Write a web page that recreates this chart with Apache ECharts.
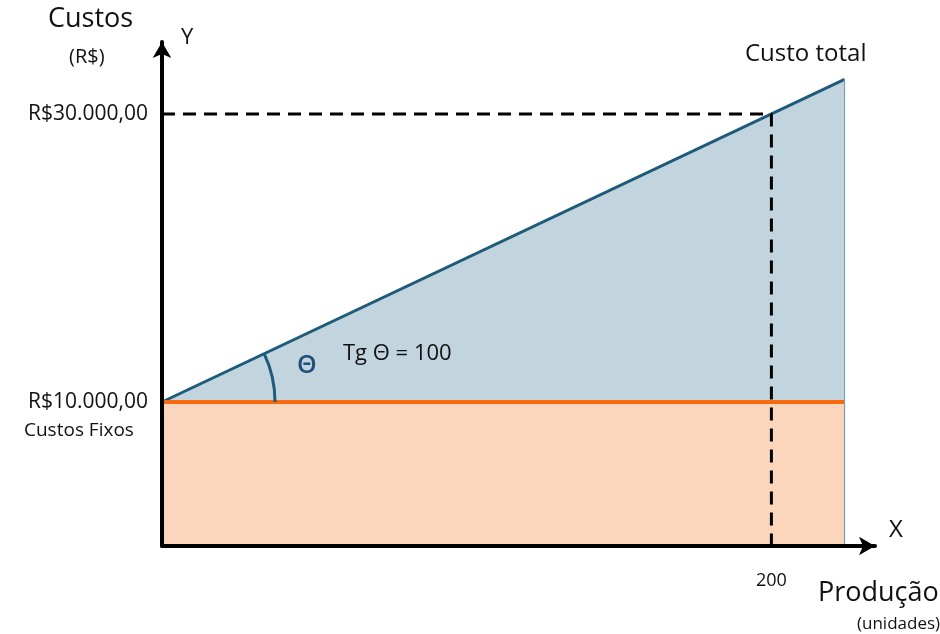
<!DOCTYPE html>
<html>
<head>
<meta charset="utf-8">
<script src="https://cdn.jsdelivr.net/npm/echarts@6/dist/echarts.min.js"></script>
<style>html,body{margin:0;padding:0;background:#fff}#c{width:940px;height:634px}</style>
</head>
<body>
<div id="c"></div>
<script>
// ---- data ----
const producao = [0, 224];               // units
const custoTotal = [10000, 32400];       // R$
const custoFixo = [10000, 10000];        // R$
const refPoint = [[0, 30000], [200, 30000], [200, 0]];
const yTicks = [10000, 30000];
const xTicks = [200];
const arcAnchor = [[0, 10000]];

const FONT = '"Open Sans", sans-serif';
const fmtBRL = v => 'R$' + v.toLocaleString('de-DE') + ',00';

const txt = (text, left, top, size, color, weight) => ({
  type: 'text', left: left, top: top, z: 20,
  style: { text: text, fontSize: size, fill: color || '#111', fontFamily: FONT, fontWeight: weight || 'normal' }
});

const chart = echarts.init(document.getElementById('c'));
chart.setOption({
  backgroundColor: '#ffffff',
  animation: false,
  grid: { left: 162, right: 65, top: 42, bottom: 88 },
  xAxis: {
    type: 'value', min: 0, max: 234, z: 10,
    splitLine: { show: false },
    axisTick: { show: false },
    axisLine: { show: true, lineStyle: { color: '#000', width: 4 }, symbol: ['none', 'arrow'], symbolSize: [14, 16] },
    axisLabel: { customValues: xTicks, margin: 26, fontSize: 18, color: '#111', fontFamily: FONT }
  },
  yAxis: {
    type: 'value', min: 0, max: 35000, z: 10,
    splitLine: { show: false },
    axisTick: { show: false },
    axisLine: { show: true, lineStyle: { color: '#000', width: 4 }, symbol: ['none', 'arrow'], symbolSize: [14, 16] },
    axisLabel: { customValues: yTicks, margin: 14, fontSize: 21, color: '#111', fontFamily: FONT, formatter: fmtBRL }
  },
  series: [
    {
      name: 'Custo total', type: 'line', symbol: 'none', z: 2,
      data: producao.map((x, i) => [x, custoTotal[i]]),
      lineStyle: { color: '#1e5b7b', width: 3 },
      areaStyle: { color: '#c2d5de', opacity: 1, origin: 'start' }
    },
    {
      name: 'Custos Fixos', type: 'line', symbol: 'none', z: 3,
      data: producao.map((x, i) => [x, custoFixo[i]]),
      lineStyle: { color: '#f96a0e', width: 4 },
      areaStyle: { color: '#fbd6bd', opacity: 1, origin: 'start' }
    },
    {
      name: 'borda', type: 'line', symbol: 'none', z: 3,
      data: [[producao[1], 0], [producao[1], custoTotal[1]]],
      lineStyle: { color: '#7d9fbb', width: 1.2 }
    },
    {
      name: 'ref', type: 'line', symbol: 'none', z: 4,
      data: refPoint,
      lineStyle: { color: '#000', width: 3, type: [13, 8] }
    },
    {
      name: 'theta', type: 'custom', z: 5,
      data: arcAnchor,
      renderItem: function (params, api) {
        const c = api.coord([api.value(0), api.value(1)]);
        const p = api.coord([producao[1], custoTotal[1]]);
        const ang = Math.atan2(p[1] - c[1], p[0] - c[0]);
        return {
          type: 'arc',
          shape: { cx: c[0], cy: c[1], r: 113, startAngle: ang, endAngle: 0, clockwise: true },
          style: { stroke: '#1e5b7b', lineWidth: 3, fill: null }
        };
      }
    }
  ],
  graphic: [
    txt('Custos', 48, 6, 27),
    txt('(R$)', 69, 47, 20),
    txt('Y', 181, 27, 22),
    txt('Custos Fixos', 24, 421, 19),
    txt('Custo total', 745, 42, 24),
    txt('Θ', 297, 353, 25, '#1f4e79', 600),
    txt('Tg Θ = 100', 343, 343, 22),
    txt('X', 889, 518, 24),
    txt('Produção', 818, 580, 27),
    txt('(unidades)', 857, 616, 17)
  ]
});
</script>
</body>
</html>
